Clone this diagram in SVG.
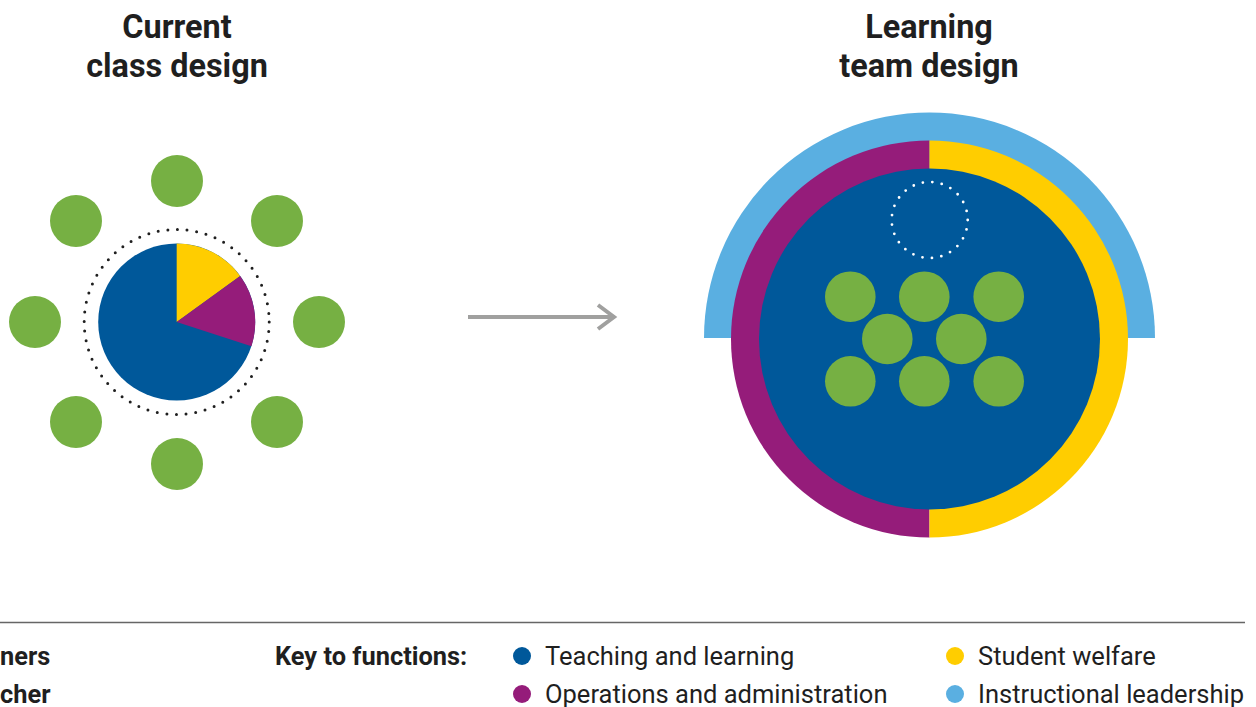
<svg xmlns="http://www.w3.org/2000/svg" width="1256" height="707" viewBox="0 0 1256 707">
<style>
.title{font-family:Roboto,"Liberation Sans",sans-serif;font-weight:bold;font-size:32.4px;fill:#1f1f1f;text-anchor:middle}
.keyb{font-family:Roboto,"Liberation Sans",sans-serif;font-weight:bold;font-size:25.4px;fill:#1f1f1f}
.key{font-family:Roboto,"Liberation Sans",sans-serif;font-size:25.5px;fill:#1f1f1f}
.learner{fill:#76b043}
.tl{fill:#00589a}
.ops{fill:#951c7a}
.sw{fill:#ffcd00}
.il{fill:#5aafe1}
</style>
<rect width="1256" height="707" fill="#ffffff"/>
<g id="title-current">
<text class="title" x="177" y="37.5">Current</text>
<text class="title" x="177" y="77">class design</text>
</g>
<g id="title-learning">
<text class="title" x="929" y="37.5">Learning</text>
<text class="title" x="929" y="77">team design</text>
</g>
<g id="current-class">
<g id="teacher-pie">
<circle class="tl" cx="176.7" cy="322" r="78.5"/>
<path class="sw" d="M176.7 322 L176.7 243.5 A78.5 78.5 0 0 1 240.2 275.9 Z"/>
<path class="ops" d="M176.7 322 L240.2 275.9 A78.5 78.5 0 0 1 251.4 346.3 Z"/>
<circle cx="176.7" cy="322" r="92.5" fill="none" stroke="#1f1f1f" stroke-width="3" stroke-linecap="round" stroke-dasharray="0 9.687"/>
</g>
<g id="learners-ring">
<circle class="learner" cx="177" cy="181" r="26"/>
<circle class="learner" cx="76" cy="221" r="26"/>
<circle class="learner" cx="277" cy="221" r="26"/>
<circle class="learner" cx="35" cy="322" r="26"/>
<circle class="learner" cx="319" cy="322" r="26"/>
<circle class="learner" cx="76" cy="422" r="26"/>
<circle class="learner" cx="277" cy="422" r="26"/>
<circle class="learner" cx="177" cy="464" r="26"/>
</g>
</g>
<g id="connectors">
<line x1="468" y1="317" x2="613" y2="317" stroke="#a0a09f" stroke-width="4"/>
<polyline points="598,305 614,317 598,329" fill="none" stroke="#a0a09f" stroke-width="4"/>
</g>
<g id="learning-team">
<path class="il" d="M704 338 A225.5 225.5 0 0 1 1155 338 Z"/>
<path class="ops" d="M929.5 140.5 A198.5 198.5 0 0 0 929.5 537.5 Z"/>
<path class="sw" d="M929.5 140.5 A198.5 198.5 0 0 1 929.5 537.5 Z"/>
<circle class="tl" cx="929.5" cy="339" r="170.5"/>
<circle cx="929.7" cy="220" r="38" fill="none" stroke="#ffffff" stroke-width="2.8" stroke-linecap="round" stroke-dasharray="0 9.55"/>
<g id="team-learners">
<circle class="learner" cx="850.3" cy="296.7" r="25.3"/>
<circle class="learner" cx="924.3" cy="296.7" r="25.3"/>
<circle class="learner" cx="998.7" cy="296.7" r="25.3"/>
<circle class="learner" cx="887.3" cy="339" r="25.3"/>
<circle class="learner" cx="961.3" cy="339" r="25.3"/>
<circle class="learner" cx="850.3" cy="381.3" r="25.3"/>
<circle class="learner" cx="924.3" cy="381.3" r="25.3"/>
<circle class="learner" cx="998.7" cy="381.3" r="25.3"/>
</g>
</g>
<g id="legend">
<line x1="0" y1="622.5" x2="1245" y2="622.5" stroke="#666666" stroke-width="1.5"/>
<text class="keyb" x="0" y="664.5">ners</text>
<text class="keyb" x="0" y="702.5">cher</text>
<text class="keyb" x="275" y="664.5">Key to functions:</text>
<circle class="tl" cx="522" cy="656" r="9"/>
<text class="key" x="545" y="664.5">Teaching and learning</text>
<circle class="ops" cx="522" cy="694" r="9"/>
<text class="key" x="545" y="702.5">Operations and administration</text>
<circle class="sw" cx="955" cy="656" r="9"/>
<text class="key" x="978" y="664.5">Student welfare</text>
<circle class="il" cx="955" cy="694" r="9"/>
<text class="key" x="978" y="702.5">Instructional leadership</text>
</g>
</svg>
